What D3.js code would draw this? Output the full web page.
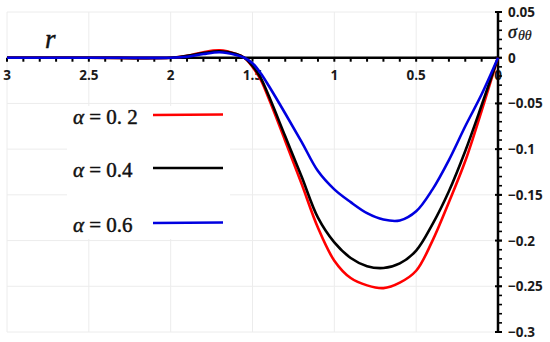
<!DOCTYPE html>
<html>
<head>
<meta charset="utf-8">
<script src="https://cdn.jsdelivr.net/npm/d3@7"></script>
<style>
  body { margin: 0; background: #fff; }
  svg { display: block; }
  .tick-label { font-family: "Open Sans", sans-serif; font-weight: 700; font-size: 13.5px; fill: #1a1a1a; }
  .math { font-family: "Liberation Serif", serif; fill: #111; stroke: #111; stroke-width: 0.45; }
</style>
</head>
<body>
<svg id="chart" width="550" height="342"></svg>
<script>
// radial position r (plotted reversed, 3 on the left, 0 on the right)
var rVals = [3, 2.5, 2.0, 1.9, 1.8, 1.7, 1.6, 1.55, 1.5, 1.45, 1.4, 1.3, 1.2, 1.1, 1.0, 0.9, 0.8, 0.7, 0.6, 0.5, 0.4, 0.3, 0.2, 0.1, 0];
var sigmaA02 = [0, 0, 0, 0.002, 0.006, 0.008, 0.004, 0.0, -0.010, -0.024, -0.045, -0.091, -0.138, -0.186, -0.222, -0.241, -0.249, -0.252, -0.246, -0.233, -0.200, -0.158, -0.113, -0.058, 0];
var sigmaA04 = [0, 0, 0, 0.002, 0.005, 0.007, 0.004, 0.0, -0.009, -0.022, -0.042, -0.086, -0.130, -0.175, -0.202, -0.219, -0.228, -0.230, -0.225, -0.211, -0.182, -0.146, -0.102, -0.052, 0];
var sigmaA06 = [0, 0, 0, 0.001, 0.004, 0.006, 0.003, 0.0, -0.006, -0.017, -0.031, -0.061, -0.092, -0.124, -0.144, -0.158, -0.170, -0.177, -0.178, -0.168, -0.144, -0.112, -0.075, -0.040, 0];

var seriesNames = ["α = 0. 2", "α = 0.4", "α = 0.6"];
var seriesColors = ["#ff0000", "#000000", "#0000e0"];

var xTickLabels = [3, 2.5, 2, 1.5, 1, 0.5, 0];
var yTickLabels = [0.05, 0, -0.05, -0.1, -0.15, -0.2, -0.25, -0.3];

var svg = d3.select("#chart");

var x = d3.scaleLinear().domain([3, 0]).range([7, 498]);
var y = d3.scaleLinear().domain([0.05, -0.3]).range([12, 332]);

var fmt = function(v) { return v < 0 ? "\u2212" + Math.abs(v) : String(v); };

// gridlines
var grid = svg.append("g").attr("stroke", "#ececec").attr("stroke-width", 1);
grid.selectAll(".vg").data(xTickLabels.slice(0, -1)).enter().append("line")
  .attr("x1", (d) => x(d)).attr("x2", (d) => x(d))
  .attr("y1", y(0.05)).attr("y2", y(-0.3));
grid.selectAll(".hg").data(yTickLabels).enter().append("line")
  .attr("x1", x(3)).attr("x2", x(0))
  .attr("y1", (d) => y(d)).attr("y2", (d) => y(d));

// legend background covers the grid
svg.append("rect")
  .attr("x", 67).attr("y", 106).attr("width", 163).attr("height", 133)
  .attr("fill", "#fff");

// x axis (horizontal at sigma = 0)
var xAxis = svg.append("g");
xAxis.selectAll(".xt").data(d3.range(0, 31).map((i) => i / 10)).enter().append("line")
  .attr("x1", (d) => x(d)).attr("x2", (d) => x(d))
  .attr("y1", y(0)).attr("y2", y(0) + 4)
  .attr("stroke", "#000").attr("stroke-width", 2);
xAxis.append("line")
  .attr("x1", x(3)).attr("x2", x(0)).attr("y1", y(0)).attr("y2", y(0))
  .attr("stroke", "#000").attr("stroke-width", 2.5);
xAxis.selectAll(".xl").data(xTickLabels).enter().append("text")
  .attr("class", "tick-label")
  .attr("x", (d) => x(d)).attr("y", 80)
  .attr("text-anchor", "middle")
  .text((d) => fmt(d));

// y axis (vertical at r = 0)
var yAxis = svg.append("g");
yAxis.selectAll(".yt").data(d3.range(-30, 6).map((i) => i / 100)).enter().append("line")
  .attr("x1", x(0)).attr("x2", x(0) + 4)
  .attr("y1", (d) => y(d)).attr("y2", (d) => y(d))
  .attr("stroke", "#000").attr("stroke-width", 1.6);
yAxis.selectAll(".ytm").data(yTickLabels).enter().append("line")
  .attr("x1", x(0) - 3).attr("x2", x(0) + 4)
  .attr("y1", (d) => y(d)).attr("y2", (d) => y(d))
  .attr("stroke", "#000").attr("stroke-width", 2);
yAxis.append("line")
  .attr("x1", x(0)).attr("x2", x(0)).attr("y1", y(0.05)).attr("y2", y(-0.3))
  .attr("stroke", "#000").attr("stroke-width", 2.5);
yAxis.selectAll(".yl").data(yTickLabels).enter().append("text")
  .attr("class", "tick-label")
  .attr("x", 508).attr("y", (d) => y(d))
  .attr("dominant-baseline", "central")
  .text((d) => fmt(d));

// axis titles
svg.append("text").attr("class", "math")
  .attr("x", 45).attr("y", 48)
  .attr("font-size", 27).attr("font-style", "italic")
  .text("r");
var sig = svg.append("text").attr("class", "math")
  .attr("x", 508).attr("y", 38)
  .attr("font-size", 18).attr("font-style", "italic");
sig.append("tspan").text("σ");
sig.append("tspan").attr("dy", 2).attr("dx", 1).attr("font-size", 14).attr("stroke-width", 0.2).text("θθ");

// curves
var series = [sigmaA02, sigmaA04, sigmaA06];
var line = d3.line()
  .x((d) => x(d[0]))
  .y((d) => y(d[1]))
  .curve(d3.curveCatmullRom.alpha(0.5));

[0, 1, 2].forEach(function(i) {
  svg.append("path")
    .datum(rVals.map((r, j) => [r, series[i][j]]))
    .attr("fill", "none")
    .attr("stroke", seriesColors[i])
    .attr("stroke-width", 2.6)
    .attr("stroke-linejoin", "round")
    .attr("d", line);
});

// legend
var legY = [115, 168, 223];
var leg = svg.append("g");
seriesNames.forEach(function(name, i) {
  var t = leg.append("text").attr("class", "math")
    .attr("x", 73).attr("y", legY[i] + 9)
    .attr("font-size", 21)
    .attr("xml:space", "preserve");
  t.append("tspan").attr("font-style", "italic").text(name.slice(0, 1));
  t.append("tspan").text(name.slice(1));
  leg.append("line")
    .attr("x1", 153).attr("x2", 223)
    .attr("y1", legY[i]).attr("y2", legY[i] - (i === 1 ? 0 : 0.5))
    .attr("stroke", seriesColors[i]).attr("stroke-width", 2.6);
});
</script>
</body>
</html>
